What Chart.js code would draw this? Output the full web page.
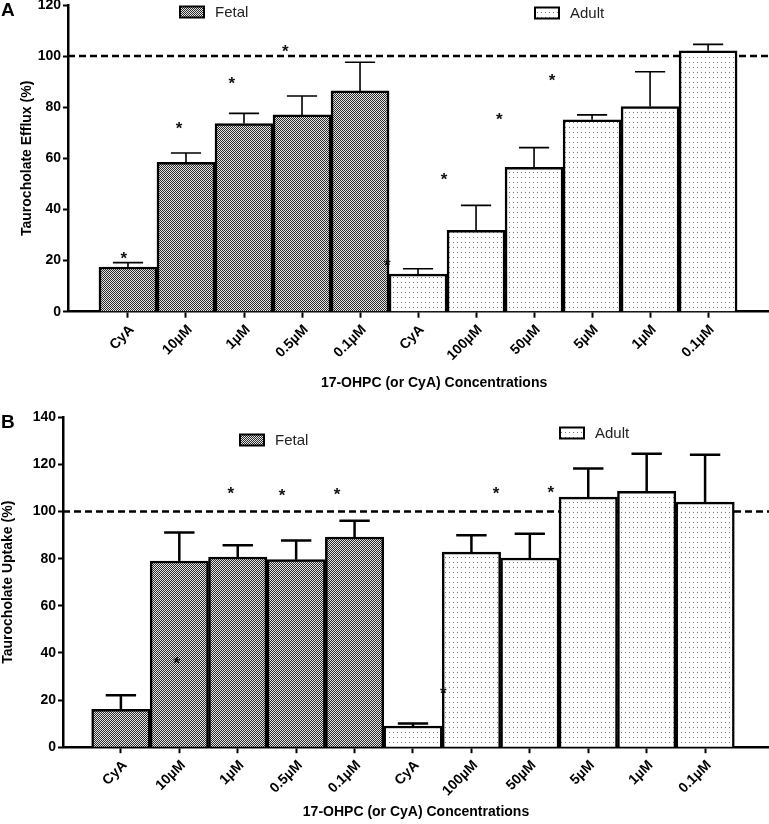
<!DOCTYPE html>
<html>
<head>
<meta charset="utf-8">
<title>Taurocholate efflux and uptake</title>
<script src="https://cdn.jsdelivr.net/npm/chart.js@4"></script>
<style>
  html, body { margin: 0; padding: 0; background: #fff; }
  canvas { display: block; }
</style>
</head>
<body>
<canvas id="chartA" width="769" height="405"></canvas>
<canvas id="chartB" width="769" height="419"></canvas>
<script>
// categories (first 5 fetal, last 6 adult)
const concLabels = ['CyA', '10µM', '1µM', '0.5µM', '0.1µM', 'CyA', '100µM', '50µM', '5µM', '1µM', '0.1µM'];
const fetalCount = 5;
const controlLevel = 100;

// panel A - efflux (%)
const effluxFetal    = [17.5, 58.4, 73.6, 77.0, 86.4];
const effluxFetalErr = [1.7, 3.7, 4.0, 7.4, 11.2];
const effluxAdult    = [14.7, 31.8, 56.5, 75.1, 80.3, 102.1];
const effluxAdultErr = [2.1, 9.8, 7.7, 1.9, 13.6, 2.5];
const effluxStars = [[-0.07, 22.2], [0.88, 73.2], [1.79, 90.9], [2.71, 103.4],
                     [4.47, 19.5], [5.45, 53.2], [6.40, 76.8], [7.31, 92.0]];

// panel B - uptake (%)
const uptakeFetal    = [16.1, 79.0, 80.7, 79.6, 89.2];
const uptakeFetalErr = [5.9, 12.1, 5.0, 8.1, 6.9];
const uptakeAdult    = [9.0, 82.8, 80.3, 106.1, 108.6, 104.0];
const uptakeAdultErr = [1.1, 7.1, 10.3, 12.2, 15.9, 20.1];
const uptakeStars = [[0.955, 37.4], [1.88, 109.3], [2.76, 108.5], [3.70, 109.0],
                     [5.52, 24.5], [6.42, 109.3], [7.36, 109.7]];

const FONT = "'Liberation Sans', Arial, sans-serif";
const NBSP = '\u00a0';

function makePattern(kind) {
  const c = document.createElement('canvas');
  const g = c.getContext('2d');
  if (kind === 'fetal') {
    c.width = 2; c.height = 2;
    g.fillStyle = '#e6e6e6'; g.fillRect(0, 0, 2, 2);
    g.fillStyle = '#2a2a2a'; g.fillRect(0, 0, 1, 1); g.fillRect(1, 1, 1, 1);
  } else {
    c.width = 4; c.height = 5;
    g.fillStyle = '#ffffff'; g.fillRect(0, 0, 4, 5);
    g.fillStyle = '#777777'; g.fillRect(1, 2, 1, 1);
  }
  return g.createPattern(c, 'repeat');
}
const fetalFill = makePattern('fetal');
const adultFill = makePattern('adult');

// dashed 100% line, behind the bars
const refLine = {
  id: 'refLine',
  beforeDatasetsDraw(chart) {
    const {ctx, chartArea} = chart;
    const y = chart.scales.y.getPixelForValue(controlLevel);
    ctx.save();
    ctx.strokeStyle = '#000';
    ctx.lineWidth = 2.5;
    ctx.setLineDash([7, 4]);
    ctx.beginPath();
    ctx.moveTo(chartArea.left, y);
    ctx.lineTo(chartArea.right, y);
    ctx.stroke();
    ctx.restore();
  }
};

// error bars (upper only), asterisks, legend, panel letter
const extras = {
  id: 'extras',
  afterDatasetsDraw(chart, args, opts) {
    const ctx = chart.ctx;
    const xs = chart.scales.x, ys = chart.scales.y;
    ctx.save();
    ctx.strokeStyle = '#000';
    ctx.lineWidth = opts.errWidth;
    chart.data.datasets.forEach((ds, di) => {
      chart.getDatasetMeta(di).data.forEach((bar, i) => {
        const top = ys.getPixelForValue(ds.data[i].y + ds.errors[i]);
        const half = bar.width * 0.26;
        ctx.beginPath();
        ctx.moveTo(bar.x, bar.y);
        ctx.lineTo(bar.x, top);
        ctx.moveTo(bar.x - half, top);
        ctx.lineTo(bar.x + half, top);
        ctx.stroke();
      });
    });
    ctx.fillStyle = '#111';
    ctx.font = 'bold 17px ' + FONT;
    ctx.textAlign = 'center';
    ctx.textBaseline = 'alphabetic';
    opts.stars.forEach(s => {
      ctx.fillText('*', xs.getPixelForValue(s[0]), ys.getPixelForValue(s[1]) + 9.5);
    });
    ctx.restore();
  },
  afterDraw(chart, args, opts) {
    const ctx = chart.ctx;
    ctx.save();
    chart.data.datasets.forEach((ds, di) => {
      const p = opts.legendPos[di];
      ctx.fillStyle = ds.backgroundColor;
      ctx.fillRect(p[0], p[1] - 5.5, 24, 11);
      ctx.lineWidth = 2;
      ctx.strokeStyle = '#000';
      ctx.strokeRect(p[0], p[1] - 5.5, 24, 11);
      ctx.fillStyle = '#222';
      ctx.font = '15px ' + FONT;
      ctx.textAlign = 'left';
      ctx.textBaseline = 'middle';
      ctx.fillText(ds.label, p[0] + 35, p[1] + 1);
    });
    ctx.fillStyle = '#000';
    ctx.font = 'bold 19px ' + FONT;
    ctx.textAlign = 'left';
    ctx.textBaseline = 'top';
    ctx.fillText(opts.letter, 1, opts.letterTop);
    ctx.restore();
  }
};

function makePanel(id, cfg) {
  const tickFont = {family: FONT, size: 14, weight: 'bold'};
  const titleFont = {family: FONT, size: 14, weight: 'bold'};
  return new Chart(document.getElementById(id), {
    type: 'bar',
    data: {
      datasets: [
        {
          label: 'Fetal',
          data: cfg.fetal.map((v, i) => ({x: i, y: v})),
          errors: cfg.fetalErr,
          backgroundColor: fetalFill,
          borderColor: '#000',
          borderWidth: 2.5
        },
        {
          label: 'Adult',
          data: cfg.adult.map((v, i) => ({x: i + fetalCount, y: v})),
          errors: cfg.adultErr,
          backgroundColor: adultFill,
          borderColor: '#000',
          borderWidth: 2.5
        }
      ]
    },
    options: {
      responsive: false,
      animation: false,
      grouped: false,
      barPercentage: 1,
      categoryPercentage: 1,
      layout: {padding: {top: cfg.top, right: 0, bottom: 0, left: 0}},
      plugins: {
        legend: {display: false},
        tooltip: {enabled: false},
        extras: {stars: cfg.stars, errWidth: cfg.errWidth, legendPos: cfg.legendPos,
                 letter: cfg.letter, letterTop: cfg.letterTop}
      },
      scales: {
        x: {
          type: 'linear',
          min: cfg.xMin,
          max: cfg.xMax,
          offset: false,
          border: {color: '#000', width: 2.5},
          grid: {
            offset: false,
            drawOnChartArea: false,
            tickLength: 6,
            tickWidth: 2,
            tickColor: c => (c.tick && c.tick.value >= 0 && c.tick.value < concLabels.length) ? '#000' : 'rgba(0,0,0,0)'
          },
          ticks: {
            stepSize: 1,
            includeBounds: false,
            autoSkip: false,
            minRotation: 45,
            maxRotation: 45,
            labelOffset: 4,
            padding: 4,
            color: '#000',
            font: tickFont,
            callback: v => concLabels[v] !== undefined ? concLabels[v] : ''
          },
          title: {
            display: true,
            text: NBSP.repeat(cfg.xTitleShift) + '17-OHPC (or CyA) Concentrations',
            color: '#000',
            font: titleFont,
            padding: {top: 0, bottom: cfg.xTitlePad}
          },
          afterFit: s => { s.height = cfg.xHeight; s.paddingLeft = 0; s.paddingRight = 0; }
        },
        y: {
          min: 0,
          max: cfg.yMax,
          border: {color: '#000', width: 2.5},
          grid: {drawOnChartArea: false, tickLength: 5, tickWidth: 2, tickColor: '#000'},
          ticks: {stepSize: 20, color: '#000', font: tickFont, padding: 2},
          title: {
            display: true,
            text: cfg.yTitle,
            color: '#000',
            font: titleFont,
            padding: {top: cfg.yTitlePad, bottom: 0}
          },
          afterFit: s => { s.width = cfg.yWidth; s.paddingTop = 0; s.paddingBottom = 0; }
        }
      }
    },
    plugins: [refLine, extras]
  });
}

makePanel('chartA', {
  fetal: effluxFetal, fetalErr: effluxFetalErr,
  adult: effluxAdult, adultErr: effluxAdultErr,
  stars: effluxStars,
  yMax: 120, yTitle: 'Taurocholate Efflux (%)',
  xMin: -1.034, xMax: 11.05,
  top: 5, yWidth: 68, xHeight: 93.3,
  yTitlePad: 19, xTitlePad: 13.6, xTitleShift: 8,
  errWidth: 1.6,
  legendPos: [[180, 12], [535, 13]],
  letter: 'A', letterTop: 1
});

makePanel('chartB', {
  fetal: uptakeFetal, fetalErr: uptakeFetalErr,
  adult: uptakeAdult, adultErr: uptakeAdultErr,
  stars: uptakeStars,
  yMax: 140, yTitle: 'Taurocholate Uptake (%)',
  xMin: -0.991, xMax: 11.094,
  top: 12.3, yWidth: 63, xHeight: 76.8,
  yTitlePad: 0, xTitlePad: 3.6, xTitleShift: 0,
  errWidth: 2.5,
  legendPos: [[240, 35], [560, 28]],
  letter: 'B', letterTop: 8
});
</script>
</body>
</html>
